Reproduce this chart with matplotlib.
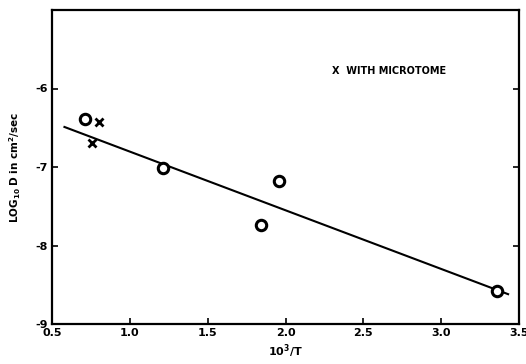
import matplotlib
matplotlib.use("Agg")
import matplotlib.pyplot as plt

# Data
circle_x = [0.71, 1.21, 1.84, 1.96, 3.36]
circle_y = [-6.39, -7.01, -7.74, -7.18, -8.58]
micro_x = [0.80, 0.76]
micro_y = [-6.43, -6.69]
fit_x = [0.58, 3.43]
fit_y = [-6.49, -8.62]
xticks = [0.5, 1.0, 1.5, 2.0, 2.5, 3.0, 3.5]
xticklabels = ["0.5", "1.0", "1.5", "2.0", "2.5", "3.0", "3.5"]
yticks = [-9, -8, -7, -6]
yticklabels = ["-9", "-8", "-7", "-6"]

fig = plt.figure(figsize=(5.26, 3.64), dpi=100)
ax = fig.add_axes([52/526, 1 - 324/364, (519-52)/526, (324-10)/364])

ax.plot(fit_x, fit_y, color="black", lw=1.5)
ax.plot(circle_x, circle_y, "o", ms=7.5, mfc="white", mec="black", mew=2.2, ls="none")
ax.plot(micro_x, micro_y, "x", ms=5.5, color="black", mew=2.0, ls="none")

ax.text(2.30, -5.78, "X  WITH MICROTOME", fontsize=7, fontweight="bold", va="center", ha="left")

ax.set_xlim(0.5, 3.5)
ax.set_ylim(-9, -5)
ax.set_xticks(xticks)
ax.set_xticklabels(xticklabels, fontsize=8, fontweight="bold")
ax.set_yticks(yticks)
ax.set_yticklabels(yticklabels, fontsize=8, fontweight="bold")
ax.tick_params(direction="in", length=4, width=1.2, right=True, top=False, pad=3)
for s in ax.spines.values():
    s.set_linewidth(1.6)

ax.set_xlabel(r"$\mathbf{10^3/T}$", fontsize=8, labelpad=3)
ax.set_ylabel(r"$\mathbf{LOG_{10}\ D\ in\ cm^2/sec}$", fontsize=7.5, labelpad=9)

fig.savefig("out.png", dpi=100)
